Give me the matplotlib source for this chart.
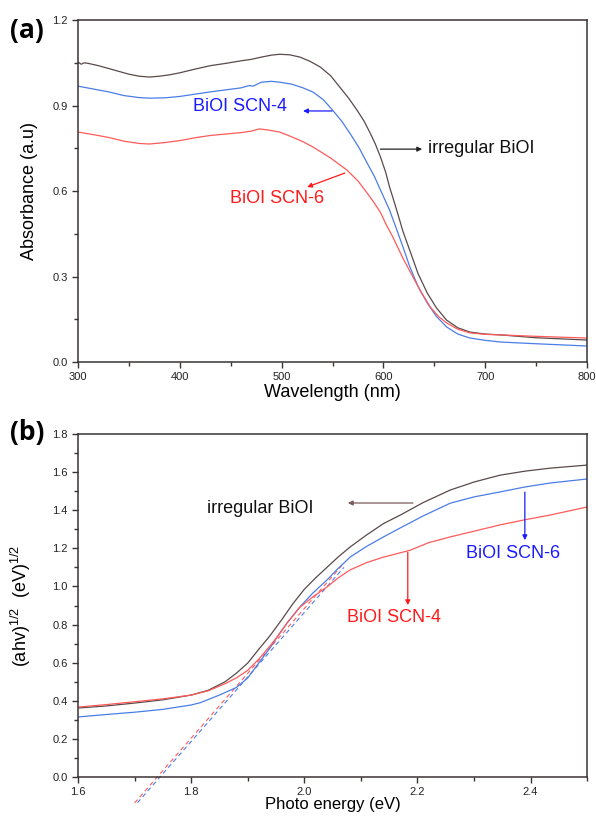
import matplotlib
matplotlib.use("Agg")
import matplotlib.pyplot as plt
from matplotlib.ticker import MultipleLocator

plt.rcParams['font.family'] = ['Liberation Sans', 'DejaVu Sans']
plt.rcParams['mathtext.default'] = 'regular'

# (a) absorbance spectra
wl_black = [300, 303, 306, 310, 320, 330, 340, 350, 360, 370, 380, 390, 400, 415, 430, 445, 460, 470, 480, 490,
            498, 508, 518, 528, 538, 548, 557, 566, 574, 581, 587, 592, 597, 602, 606, 610, 613, 619, 626, 634,
            643, 652, 662, 673, 685, 700, 715, 750, 800]
ab_black = [1.053, 1.045, 1.05, 1.048, 1.04, 1.03, 1.02, 1.01, 1.003, 1.0, 1.003, 1.008, 1.015, 1.028, 1.04,
            1.048, 1.057, 1.062, 1.07, 1.077, 1.08, 1.078, 1.07, 1.055, 1.035, 1.005, 0.965, 0.925, 0.884, 0.845,
            0.803, 0.765, 0.72, 0.668, 0.614, 0.568, 0.533, 0.46, 0.39, 0.31, 0.242, 0.19, 0.147, 0.12, 0.105,
            0.098, 0.095, 0.085, 0.077]
wl_blue = [300, 315, 330, 345, 360, 370, 385, 400, 415, 430, 445, 460, 468, 472, 480, 490, 498, 510, 521, 531,
           541, 550, 559, 567, 576, 584, 591, 597, 602, 606, 614, 620, 626, 634, 643, 652, 662, 673, 685, 700,
           715, 750, 800]
ab_blue = [0.968, 0.958, 0.948, 0.935, 0.928, 0.926, 0.927, 0.932, 0.94, 0.948, 0.955, 0.962, 0.97, 0.968,
           0.982, 0.985, 0.982, 0.975, 0.962, 0.947, 0.92, 0.884, 0.845, 0.803, 0.752, 0.698, 0.652, 0.604,
           0.565, 0.533, 0.455, 0.395, 0.333, 0.265, 0.207, 0.16, 0.123, 0.098, 0.084, 0.076, 0.07, 0.064, 0.056]
wl_red = [300, 315, 330, 345, 360, 370, 385, 400, 415, 430, 445, 460, 470, 478, 487, 498, 510, 521, 531, 548,
          564, 575, 584, 590, 597, 603, 609, 619, 629, 637, 646, 654, 662, 673, 685, 700, 715, 750, 800]
ab_red = [0.807, 0.798, 0.788, 0.775, 0.767, 0.765, 0.77, 0.777, 0.787, 0.795, 0.8, 0.805, 0.81, 0.818, 0.814,
          0.807, 0.79, 0.773, 0.754, 0.716, 0.674, 0.635, 0.593, 0.563, 0.525, 0.48, 0.44, 0.365, 0.298, 0.245,
          0.193, 0.16, 0.137, 0.115, 0.102, 0.097, 0.095, 0.09, 0.084]

# (b) Tauc plot
e_black = [1.6, 1.65, 1.7, 1.75, 1.8, 1.83, 1.86, 1.88, 1.9, 1.92, 1.94, 1.96, 1.98, 2.0, 2.02, 2.04, 2.06,
           2.081, 2.11, 2.14, 2.17, 2.21, 2.258, 2.3, 2.346, 2.39, 2.435, 2.5]
t_black = [0.362, 0.373, 0.388, 0.405, 0.43, 0.455, 0.5, 0.545, 0.598, 0.672, 0.744, 0.825, 0.91, 0.985, 1.045,
           1.10, 1.155, 1.207, 1.27, 1.33, 1.375, 1.44, 1.506, 1.548, 1.584, 1.605, 1.621, 1.637]
e_blue = [1.6, 1.65, 1.7, 1.75, 1.8, 1.816, 1.85, 1.88, 1.9, 1.92, 1.94, 1.952, 1.97, 1.992, 2.015, 2.04, 2.06,
          2.081, 2.11, 2.14, 2.169, 2.21, 2.258, 2.3, 2.346, 2.39, 2.435, 2.5]
t_blue = [0.315, 0.328, 0.34, 0.355, 0.378, 0.39, 0.43, 0.47, 0.52, 0.6, 0.68, 0.735, 0.81, 0.892, 0.965, 1.034,
          1.095, 1.154, 1.21, 1.26, 1.306, 1.37, 1.437, 1.47, 1.496, 1.522, 1.543, 1.564]
e_red = [1.6, 1.65, 1.7, 1.75, 1.8, 1.83, 1.86, 1.88, 1.9, 1.92, 1.94, 1.952, 1.97, 1.992, 2.015, 2.04, 2.06,
         2.081, 2.11, 2.14, 2.187, 2.22, 2.258, 2.3, 2.346, 2.39, 2.435, 2.5]
t_red = [0.367, 0.38, 0.395, 0.41, 0.43, 0.452, 0.49, 0.52, 0.56, 0.62, 0.69, 0.735, 0.81, 0.89, 0.945, 0.997,
         1.045, 1.087, 1.125, 1.154, 1.19, 1.23, 1.26, 1.29, 1.323, 1.35, 1.375, 1.417]
# tangent lines
fit_red = ([1.70, 2.07], [-0.136, 1.122])
fit_blue = ([1.705, 2.07], [-0.135, 1.10])

c_black = '#5a4a4a'
c_blue = '#4a7de6'
c_red = '#ff5a5a'
t_blue_c = '#1a1aff'
t_red_c = '#ff1a1a'
frame = '#3b3333'

fig = plt.figure(figsize=(5.96, 8.16), dpi=100)
ax1 = fig.add_axes([0.131, 0.5564, 0.854, 0.419])
ax2 = fig.add_axes([0.131, 0.0478, 0.854, 0.4203])

ax1.plot(wl_black, ab_black, color=c_black, lw=0.9)
ax1.plot(wl_blue, ab_blue, color=c_blue, lw=0.9)
ax1.plot(wl_red, ab_red, color=c_red, lw=0.9)
ax1.set_xlim(300, 800)
ax1.set_ylim(0, 1.2)
ax1.xaxis.set_major_locator(MultipleLocator(100))
ax1.xaxis.set_minor_locator(MultipleLocator(50))
ax1.yaxis.set_major_locator(MultipleLocator(0.3))
ax1.yaxis.set_minor_locator(MultipleLocator(0.15))
ax1.set_xlabel('Wavelength (nm)', fontsize=13, labelpad=1)
ax1.set_ylabel('Absorbance (a.u)', fontsize=13, labelpad=10)

arr = dict(arrowstyle='-|>', lw=0.9, mutation_scale=7, shrinkA=0, shrinkB=0)
ax1.annotate('', xy=(521, 0.881), xytext=(549.5, 0.881), arrowprops=dict(arr, color=t_blue_c))
ax1.text(459, 0.895, 'BiOI SCN-4', color=t_blue_c, fontsize=13, ha='center', va='center')
ax1.annotate('', xy=(638, 0.747), xytext=(597, 0.747), arrowprops=dict(arr, color='#222222'))
ax1.text(644, 0.751, 'irregular BiOI', color='#111111', fontsize=13, ha='left', va='center')
ax1.annotate('', xy=(525, 0.614), xytext=(562, 0.663), arrowprops=dict(arr, color=t_red_c))
ax1.text(495.5, 0.575, 'BiOI SCN-6', color=t_red_c, fontsize=13, ha='center', va='center')

ax2.plot(fit_red[0], fit_red[1], color=c_red, lw=0.8, ls=(0, (4, 3)), clip_on=False)
ax2.plot(fit_blue[0], fit_blue[1], color=c_blue, lw=0.8, ls=(0, (4, 3)), clip_on=False)
ax2.plot(e_black, t_black, color=c_black, lw=0.9)
ax2.plot(e_blue, t_blue, color=c_blue, lw=0.9)
ax2.plot(e_red, t_red, color=c_red, lw=0.9)
ax2.set_xlim(1.6, 2.5)
ax2.set_ylim(0, 1.8)
ax2.xaxis.set_major_locator(MultipleLocator(0.2))
ax2.xaxis.set_minor_locator(MultipleLocator(0.1))
ax2.yaxis.set_major_locator(MultipleLocator(0.2))
ax2.yaxis.set_minor_locator(MultipleLocator(0.1))
ax2.set_xlabel('Photo energy (eV)', fontsize=12, labelpad=0)
ax2.set_ylabel('(ahv)$^{1/2}$  (eV)$^{1/2}$', fontsize=13, labelpad=14)

ax2.annotate('', xy=(2.077, 1.438), xytext=(2.192, 1.438), arrowprops=dict(arr, color='#7a5a5a'))
ax2.text(1.922, 1.411, 'irregular BiOI', color='#111111', fontsize=13, ha='center', va='center')
ax2.annotate('', xy=(2.39, 1.243), xytext=(2.39, 1.495), arrowprops=dict(arr, color=t_blue_c))
ax2.text(2.369, 1.175, 'BiOI SCN-6', color=t_blue_c, fontsize=13, ha='center', va='center')
ax2.annotate('', xy=(2.183, 0.902), xytext=(2.183, 1.18), arrowprops=dict(arr, color=t_red_c))
ax2.text(2.159, 0.839, 'BiOI SCN-4', color=t_red_c, fontsize=13, ha='center', va='center')

for ax in (ax1, ax2):
    for s in ax.spines.values():
        s.set_color(frame)
        s.set_linewidth(1.1)
    ax.tick_params(which='both', direction='out', colors=frame, labelcolor='#222222', labelsize=8, width=1)
    ax.tick_params(which='major', length=4)
    ax.tick_params(which='minor', length=3)

fig.text(0.017, 0.963, '(a)', fontsize=19, fontweight='bold', family=['Open Sans', 'DejaVu Sans'], va='center')
fig.text(0.017, 0.470, '(b)', fontsize=19, fontweight='bold', family=['Open Sans', 'DejaVu Sans'], va='center')

fig.savefig('out.png', dpi=100)
